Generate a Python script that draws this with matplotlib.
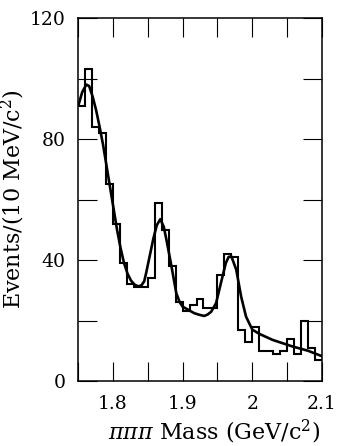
import numpy as np
import matplotlib
matplotlib.use("Agg")
import matplotlib.pyplot as plt
from matplotlib.ticker import MultipleLocator, FuncFormatter

# histogram: 10 MeV bins starting at 1.75 GeV
bin_start = 1.75
bin_width = 0.01
counts = [91, 103, 84, 82, 65, 52, 39, 32, 31, 31,
          34, 59, 50, 38, 26, 23, 25, 27, 24, 24,
          35, 42, 41, 17, 13, 18, 10, 10, 9, 10,
          14, 9, 20, 11, 7]

# fit curve
fit_mass = [1.751, 1.756, 1.762, 1.766, 1.771, 1.776, 1.781, 1.786, 1.791,
            1.796, 1.801, 1.806, 1.811, 1.816, 1.821, 1.826, 1.831, 1.836,
            1.841, 1.845, 1.848, 1.853, 1.858, 1.863, 1.868, 1.873, 1.877,
            1.884, 1.891, 1.896, 1.900, 1.910, 1.917, 1.924, 1.931, 1.936,
            1.941, 1.948, 1.955, 1.962, 1.966, 1.970, 1.977, 1.984, 1.991,
            2.000, 2.010, 2.029, 2.058, 2.080, 2.100]
fit_events = [91.5, 95.5, 98, 97.5, 94, 89.5, 84, 78, 71,
              64, 57, 50, 44, 39, 35.5, 33.2, 31.9, 31.3,
              31.6, 33, 36, 41.5, 47, 51.5, 53.5, 51, 46.5,
              38, 29, 26, 24.6, 23.3, 22.4, 21.9, 21.5, 22,
              22.9, 25.7, 32.4, 39, 41, 41.2, 36.8, 27.9, 21.3,
              17, 15.6, 13.6, 11.4, 10, 8.2]

edges = bin_start + bin_width * np.arange(len(counts) + 1)

plt.rcParams['font.family'] = ['DejaVu Serif']
plt.rcParams['mathtext.fontset'] = 'dejavuserif'

fig = plt.figure(figsize=(3.37, 4.46), dpi=100)
ax = fig.add_axes([0.2315, 0.1457, 0.724, 0.8139])

ax.stairs(counts, edges, baseline=None, color="black", linewidth=1.5)
ax.plot(fit_mass, fit_events, color="black", linewidth=1.9)

ax.set_xlim(1.75, 2.1)
ax.set_ylim(0, 120)

ax.xaxis.set_major_locator(MultipleLocator(0.1))
ax.xaxis.set_minor_locator(MultipleLocator(0.05))
ax.yaxis.set_major_locator(MultipleLocator(40))
ax.yaxis.set_minor_locator(MultipleLocator(20))
ax.xaxis.set_major_formatter(FuncFormatter(lambda v, p: "%g" % round(v, 2)))

ax.tick_params(which="both", direction="in", top=True, right=True,
               length=14, width=0.8, labelsize=13.5)
ax.tick_params(axis="x", pad=10)
ax.tick_params(axis="y", pad=9)
for s in ax.spines.values():
    s.set_linewidth(1.1)

ax.set_xlabel(r"$\pi\pi\pi$ Mass (GeV/c$^2$)", fontsize=16)
ax.set_ylabel(r"Events/(10 MeV/c$^2$)", fontsize=16)
ax.xaxis.set_label_coords(0.56, -0.102)
ax.yaxis.set_label_coords(-0.21, 0.5)

fig.savefig("out.png", dpi=100)
